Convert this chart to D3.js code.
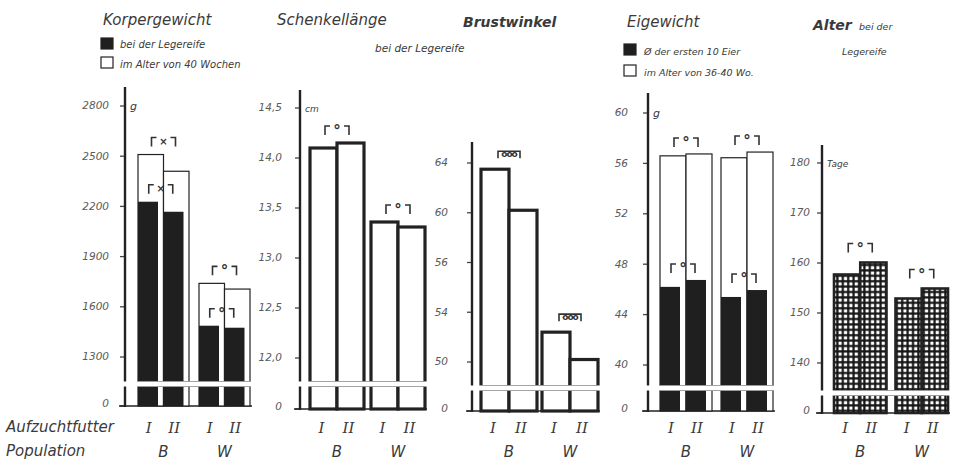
<!DOCTYPE html>
<html><head><meta charset="utf-8">
<script src="https://cdn.jsdelivr.net/npm/d3@7"></script>
<style>body{margin:0;background:#fff}svg{display:block}</style>
</head><body><svg id="c" width="955" height="467"></svg>
<script>
// ---------- data (order: B-I, B-II, W-I, W-II) ----------
const populations = ["B", "W"];
const feeds = ["I", "II"];

const kgAt40Weeks   = [2510, 2410, 1740, 1706];
const kgAtLaying    = [2228, 2168, 1487, 1475];
const kgTicks       = [1300, 1600, 1900, 2200, 2500, 2800];
const kgSigOuter    = ["×", "°"];
const kgSigInner    = ["×", "°"];

const legLength     = [14.10, 14.15, 13.36, 13.31];
const legTicks      = [12.0, 12.5, 13.0, 13.5, 14.0, 14.5];
const legSig        = ["°", "°"];

const breastAngle   = [63.5, 60.2, 50.4, 48.2];
const breastTicks   = [48, 52, 56, 60, 64];
const breastTickLabels = ["50", "54", "56", "60", "64"];
const breastSig     = ["ooo", "ooo"];

const eggFirst10    = [46.2, 46.75, 45.4, 45.95];
const egg36to40     = [56.6, 56.75, 56.45, 56.9];
const eggTicks      = [40, 44, 48, 52, 56, 60];
const eggSigOuter   = ["°", "°"];
const eggSigInner   = ["°", "°"];

const ageAtLaying   = [157.7, 160.1, 152.9, 154.9];
const ageTicks      = [140, 150, 160, 170, 180];
const ageSig        = ["°", "°"];

// ---------- drawing ----------
const svg = d3.select("#c");
const INK = "#222", TXT = "#3a3a3a";
const SANS = "DejaVu Sans, Verdana, sans-serif";
const SERIF = "DejaVu Serif, serif";

const defs = svg.append("defs");
const pat = defs.append("pattern").attr("id", "grid").attr("patternUnits", "userSpaceOnUse")
  .attr("width", 5.4).attr("height", 5.4);
pat.append("rect").attr("width", 5.4).attr("height", 5.4).attr("fill", "#151515");
pat.append("rect").attr("x", 1.5).attr("y", 1.5).attr("width", 3.2).attr("height", 3.2).attr("fill", "#fff");

svg.append("rect").attr("width", 955).attr("height", 467).attr("fill", "#fff");

function makePanel(cfg) {
  const g = svg.append("g");
  const lo = cfg.ticks[0], hi = cfg.ticks[cfg.ticks.length - 1];
  const breakVal = lo - (cfg.breakY - cfg.loY) / (cfg.loY - cfg.hiY) * (hi - lo);
  const y = d3.scaleLinear().domain([0, breakVal, hi]).range([cfg.baseY, cfg.breakY, cfg.hiY]);
  const yUp = d3.scaleLinear().domain([lo, hi]).range([cfg.loY, cfg.hiY]);
  const yy = v => (v >= lo ? yUp(v) : y(v));

  const xOuter = d3.scaleBand().domain(populations).range([cfg.x0, cfg.x1])
    .paddingInner(cfg.gap / ((cfg.x1 - cfg.x0 + cfg.gap) / 2));
  const xInner = d3.scaleBand().domain(feeds).range([0, xOuter.bandwidth()]);
  const bx = i => xOuter(populations[Math.floor(i / 2)]) + xInner(feeds[i % 2]);
  const bw = xInner.bandwidth();

  // axis
  const labels = cfg.labels || cfg.ticks.map(cfg.fmt);
  const ax = d3.axisLeft(y).tickValues([0, ...cfg.ticks]).tickSize(5).tickPadding(cfg.off - 5)
    .tickFormat((d, i) => i === 0 ? "0" : labels[i - 1]);
  const axg = g.append("g").attr("transform", `translate(${cfg.axisX},0)`).call(ax);
  axg.select(".domain").remove();
  axg.selectAll(".tick").attr("transform", d => `translate(0,${yy(d)})`);
  axg.selectAll(".tick line").attr("stroke", "#444").attr("stroke-width", 1.3);
  axg.selectAll(".tick text").attr("fill", "#5a5a5a").attr("font-family", SANS)
    .attr("font-style", "italic").attr("font-size", 10.5)
    .attr("dy", (d, i) => i === 0 ? "0.1em" : "0.32em");

  g.append("line").attr("x1", cfg.axisX).attr("x2", cfg.axisX)
    .attr("y1", cfg.axisTop).attr("y2", cfg.baseY + 1)
    .attr("stroke", INK).attr("stroke-width", 2.4);
  g.append("line").attr("x1", cfg.axisX - 6).attr("x2", cfg.x1 + 2)
    .attr("y1", cfg.baseY).attr("y2", cfg.baseY).attr("stroke", INK).attr("stroke-width", 1.6);

  if (cfg.unit) g.append("text").attr("x", cfg.axisX + 5).attr("y", yUp(hi) + 4)
    .attr("font-family", SANS).attr("font-style", "italic").attr("font-size", cfg.unitSize || 10)
    .attr("fill", TXT).text(cfg.unit);

  if (cfg.outline) {
    g.selectAll(null).data(cfg.outline).join("rect")
      .attr("x", (d, i) => bx(i)).attr("width", bw)
      .attr("y", d => yy(d)).attr("height", d => cfg.baseY - yy(d))
      .attr("fill", cfg.fillOutline || "#fff").attr("stroke", INK)
      .attr("stroke-width", cfg.outlineW || 1.2);
  }
  if (cfg.solid) {
    const sw = cfg.solidW || bw * 0.78;
    g.selectAll(null).data(cfg.solid).join("rect")
      .attr("x", (d, i) => bx(i)).attr("width", sw)
      .attr("y", d => yy(d)).attr("height", d => cfg.baseY - yy(d))
      .attr("fill", "#1f1f1f");
  }

  // break
  g.append("rect").attr("x", cfg.axisX - 4).attr("width", cfg.x1 - cfg.axisX + 8)
    .attr("y", cfg.breakY - 2.5).attr("height", 5).attr("fill", "#fff");
  [cfg.breakY - 2.5, cfg.breakY + 2.5].forEach(yb =>
    g.append("line").attr("x1", cfg.x0 - 1).attr("x2", cfg.x1 + 1).attr("y1", yb).attr("y2", yb)
      .attr("stroke", "#9a9a9a").attr("stroke-width", 0.9));

  function bracket(cx, yc, w, sym) {
    const bgp = g.append("g").attr("stroke", "#333").attr("stroke-width", 1.6).attr("fill", "none");
    const top = yc - 4;
    if (sym === "ooo") {
      bgp.append("path").attr("d", `M${cx - w / 2},${top + 7}V${top}H${cx + w / 2}V${top + 7}`);
      g.append("text").attr("x", cx).attr("y", top + 6).attr("text-anchor", "middle")
        .attr("font-family", SANS).attr("font-size", 9).attr("font-weight", "bold")
        .attr("letter-spacing", -1).attr("fill", "#333").text(sym);
    } else {
      bgp.append("path").attr("d", `M${cx - w / 2},${top + 9}V${top}H${cx - w / 2 + 5}`);
      bgp.append("path").attr("d", `M${cx + w / 2},${top + 9}V${top}H${cx + w / 2 - 5}`);
      g.append("text").attr("x", cx).attr("y", top + (sym === "°" ? 10 : 7)).attr("text-anchor", "middle")
        .attr("font-family", SANS).attr("font-size", sym === "°" ? 15 : 10).attr("font-weight", "bold")
        .attr("fill", "#333").text(sym);
    }
  }
  function brackets(values, syms, narrow) {
    populations.forEach((p, k) => {
      const i0 = 2 * k;
      const right = narrow ? bx(i0 + 1) + (cfg.solidW || bw * 0.78) : bx(i0 + 1) + bw;
      const cx = (bx(i0) + right) / 2;
      const m = Math.max(values[i0], values[i0 + 1]);
      bracket(cx, yy(m) - (cfg.bOff || 14), cfg.bWidth || 24, syms[k]);
    });
  }
  if (cfg.sigOuter) brackets(cfg.outline, cfg.sigOuter, false);
  if (cfg.sigInner) brackets(cfg.solid, cfg.sigInner, true);

  [0, 1, 2, 3].forEach(i => {
    g.append("text").attr("x", bx(i) + bw / 2 - 2).attr("y", 433).attr("text-anchor", "middle")
      .attr("font-family", SERIF).attr("font-style", "italic").attr("font-size", 15)
      .attr("fill", TXT).text(feeds[i % 2]);
  });
  populations.forEach(p => {
    g.append("text").attr("x", xOuter(p) + xOuter.bandwidth() / 2).attr("y", 457)
      .attr("text-anchor", "middle").attr("font-family", SANS).attr("font-style", "italic")
      .attr("font-size", 15).attr("fill", TXT).text(p);
  });
  return g;
}

const comma = d => d3.format(".1f")(d).replace(".", ",");

makePanel({ ticks: kgTicks, fmt: d => String(d), axisX: 125, axisTop: 87, baseY: 406, breakY: 384,
  loY: 357, hiY: 106, x0: 138, x1: 250, gap: 10, off: 16, unit: "g", unitSize: 11,
  outline: kgAt40Weeks, solid: kgAtLaying, solidW: 20, sigOuter: kgSigOuter, sigInner: kgSigInner, bOff: 13 });

makePanel({ ticks: legTicks, fmt: comma, axisX: 300, axisTop: 90, baseY: 409, breakY: 384,
  loY: 358, hiY: 108, x0: 310, x1: 425, gap: 7, off: 18, unit: "cm", unitSize: 9,
  outline: legLength, outlineW: 3.2, sigOuter: legSig, bOff: 13 });

makePanel({ ticks: breastTicks, labels: breastTickLabels, axisX: 472, axisTop: 142, baseY: 411, breakY: 388,
  loY: 362, hiY: 163, x0: 481, x1: 598, gap: 5, off: 24,
  outline: breastAngle, outlineW: 3.2, sigOuter: breastSig, bOff: 14, bWidth: 22 });

makePanel({ ticks: eggTicks, fmt: d => String(d), axisX: 648, axisTop: 93, baseY: 411, breakY: 388,
  loY: 365, hiY: 113, x0: 660, x1: 773, gap: 9, off: 20, unit: "g", unitSize: 11,
  outline: egg36to40, solid: eggFirst10, solidW: 20, sigOuter: eggSigOuter, sigInner: eggSigInner, bOff: 12 });

makePanel({ ticks: ageTicks, fmt: d => String(d), axisX: 822, axisTop: 145, baseY: 413, breakY: 393,
  loY: 363, hiY: 163, x0: 834, x1: 948, gap: 9, off: 12, unit: "Tage", unitSize: 9,
  outline: ageAtLaying, outlineW: 2.6, fillOutline: "url(#grid)", sigOuter: ageSig, bOff: 15 });

function txt(x, y, s, size, opts = {}) {
  return svg.append("text").attr("x", x).attr("y", y).attr("font-family", SANS)
    .attr("font-style", "italic").attr("font-size", size).attr("fill", opts.fill || TXT)
    .attr("font-weight", opts.bold ? "bold" : "normal").text(s);
}
txt(103, 25, "Korpergewicht", 15);
txt(277, 25, "Schenkellänge", 15);
txt(463, 27, "Brustwinkel", 14, { bold: true });
txt(627, 27, "Eigewicht", 15);
txt(813, 30, "Alter", 14, { bold: true });
txt(859, 30, "bei der", 9.5);
txt(842, 55, "Legereife", 9.5);
txt(375, 52, "bei der Legereife", 10.5);

function legendBox(x, y, filled) {
  svg.append("rect").attr("x", x).attr("y", y).attr("width", 12).attr("height", 11)
    .attr("fill", filled ? "#1f1f1f" : "#fff").attr("stroke", "#222").attr("stroke-width", 1.2);
}
legendBox(101, 38, true);  txt(120, 48, "bei der Legereife", 10);
legendBox(101, 57, false); txt(120, 68, "im Alter von 40 Wochen", 10);
legendBox(624, 44, true);  txt(644, 55, "Ø der ersten 10 Eier", 9.5);
legendBox(624, 65, false); txt(644, 76, "im Alter von 36-40 Wo.", 9.5);

txt(6, 432, "Aufzuchtfutter", 15);
txt(6, 456, "Population", 15);
</script></body></html>
